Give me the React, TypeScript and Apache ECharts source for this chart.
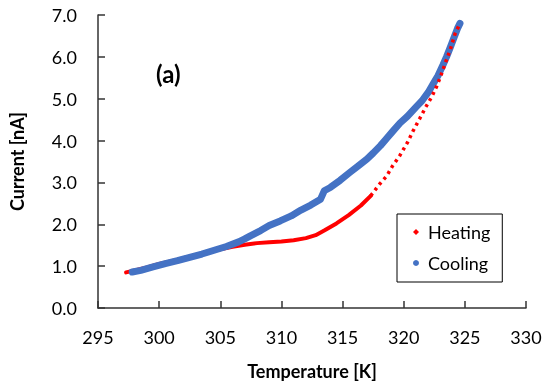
import React, { useEffect, useRef } from "react";
import * as echarts from "echarts";

// Heating (dense part of the run)
const heatingDenseT = [297.3, 298, 299, 300, 301, 302, 303, 304, 304.5, 305, 306, 307, 308, 309, 310, 311, 312, 312.8, 313.5, 314.5, 315.5, 316.5, 317.3];
const heatingDenseI = [0.85, 0.9, 0.97, 1.05, 1.12, 1.19, 1.27, 1.34, 1.38, 1.4, 1.46, 1.51, 1.55, 1.57, 1.59, 1.62, 1.67, 1.74, 1.85, 2.02, 2.22, 2.45, 2.68];
// Heating (sparse points, upper part)
const heatingSparseT = [317.3, 318, 318.6, 319.1, 319.7, 320.3, 320.8, 321.3, 321.8, 322.3, 322.7, 323.0, 323.4, 323.8, 324.2, 324.6];
const heatingSparseI = [2.68, 2.95, 3.15, 3.4, 3.65, 3.95, 4.25, 4.52, 4.8, 5.05, 5.3, 5.52, 5.85, 6.17, 6.55, 6.8];
// Cooling
const coolingT = [297.8, 298.5, 299.5, 300.5, 301.5, 302.5, 303.5, 304.5, 305.5, 306.5, 307, 307.5, 308.3, 309, 309.9, 310.8, 311.6, 312.4, 313.2, 313.5, 314, 314.8, 315.6, 316.3, 317, 317.5, 318.1, 318.6, 319.1, 319.7, 320.3, 321, 321.5, 322, 322.4, 322.8, 323.2, 323.5, 323.8, 324.1, 324.4, 324.6];
const coolingI = [0.86, 0.9, 0.98, 1.06, 1.13, 1.21, 1.29, 1.38, 1.47, 1.58, 1.65, 1.73, 1.85, 1.97, 2.08, 2.2, 2.34, 2.46, 2.6, 2.8, 2.88, 3.05, 3.24, 3.4, 3.56, 3.7, 3.88, 4.05, 4.22, 4.42, 4.58, 4.8, 4.95, 5.15, 5.35, 5.55, 5.8, 6.0, 6.22, 6.45, 6.68, 6.8];

const xTicks = { min: 295, max: 330, interval: 5 };
const yTicks = { min: 0, max: 7, interval: 1 };

const zip = (a: number[], b: number[]) => a.map((v, i) => [v, b[i]]);

const FONT = "Lato";
const RED = "#FF0000";
const BLUE = "#4472C4";

export default function App() {
  const ref = useRef<HTMLDivElement>(null);
  useEffect(() => {
    const chart = echarts.init(ref.current!, null, { renderer: "svg" });
    chart.setOption({
      animation: false,
      textStyle: { fontFamily: FONT },
      grid: { left: 97, right: 24, top: 15, bottom: 76, containLabel: false },
      legend: {
        left: 397,
        top: 214,
        orient: "vertical",
        padding: [8, 12, 9, 16],
        itemGap: 11,
        itemWidth: 6,
        itemHeight: 6,
        borderColor: "#000",
        borderWidth: 1,
        borderRadius: 0,
        textStyle: { fontFamily: FONT, fontSize: 18, lineHeight: 20, color: "#000", padding: [0, 0, 0, 4] },
        data: [
          { name: "Heating", icon: "diamond" },
          { name: "Cooling", icon: "circle" },
        ],
      },
      xAxis: {
        type: "value",
        min: xTicks.min,
        max: xTicks.max,
        interval: xTicks.interval,
        name: "Temperature [K]",
        nameLocation: "middle",
        nameGap: 54,
        nameTextStyle: { fontFamily: FONT, fontSize: 18, fontWeight: "bold", color: "#000" },
        axisLine: { show: true, lineStyle: { color: "#333", width: 1.5 } },
        axisTick: { show: true, inside: true, length: 7, lineStyle: { color: "#333", width: 1.5 } },
        axisLabel: { fontFamily: FONT, fontSize: 18, color: "#000", margin: 20 },
        splitLine: { show: false },
      },
      yAxis: {
        type: "value",
        min: yTicks.min,
        max: yTicks.max,
        interval: yTicks.interval,
        name: "Current [nA]",
        nameLocation: "middle",
        nameGap: 72,
        nameRotate: 90,
        nameTextStyle: { fontFamily: FONT, fontSize: 18, fontWeight: "bold", color: "#000" },
        axisLine: { show: true, lineStyle: { color: "#333", width: 1.5 } },
        axisTick: { show: true, inside: true, length: 7, lineStyle: { color: "#333", width: 1.5 } },
        axisLabel: { fontFamily: FONT, fontSize: 18, color: "#000", margin: 21, formatter: (v: number) => v.toFixed(1) },
        splitLine: { show: false },
      },
      graphic: [
        {
          type: "text",
          left: 156,
          top: 61,
          style: { text: "(a)", font: `bold 24px ${FONT}`, fill: "#000" },
        },
      ],
      series: [
        {
          name: "Heating",
          type: "line",
          data: zip(heatingDenseT, heatingDenseI),
          showSymbol: false,
          itemStyle: { color: RED },
          lineStyle: { color: RED, width: 4, cap: "round", join: "round" },
        },
        {
          name: "Cooling",
          type: "line",
          data: zip(coolingT, coolingI),
          showSymbol: false,
          itemStyle: { color: BLUE },
          lineStyle: { color: BLUE, width: 7, cap: "round", join: "round" },
        },
        {
          name: "Heating",
          type: "line",
          data: zip(heatingSparseT, heatingSparseI),
          showSymbol: false,
          itemStyle: { color: RED },
          lineStyle: { color: RED, width: 3.5, type: [3, 4] },
        },
      ],
    });
    return () => chart.dispose();
  }, []);
  return <div ref={ref} style={{ position: "fixed", left: 0, top: 0, width: 550, height: 385 }} />;
}
